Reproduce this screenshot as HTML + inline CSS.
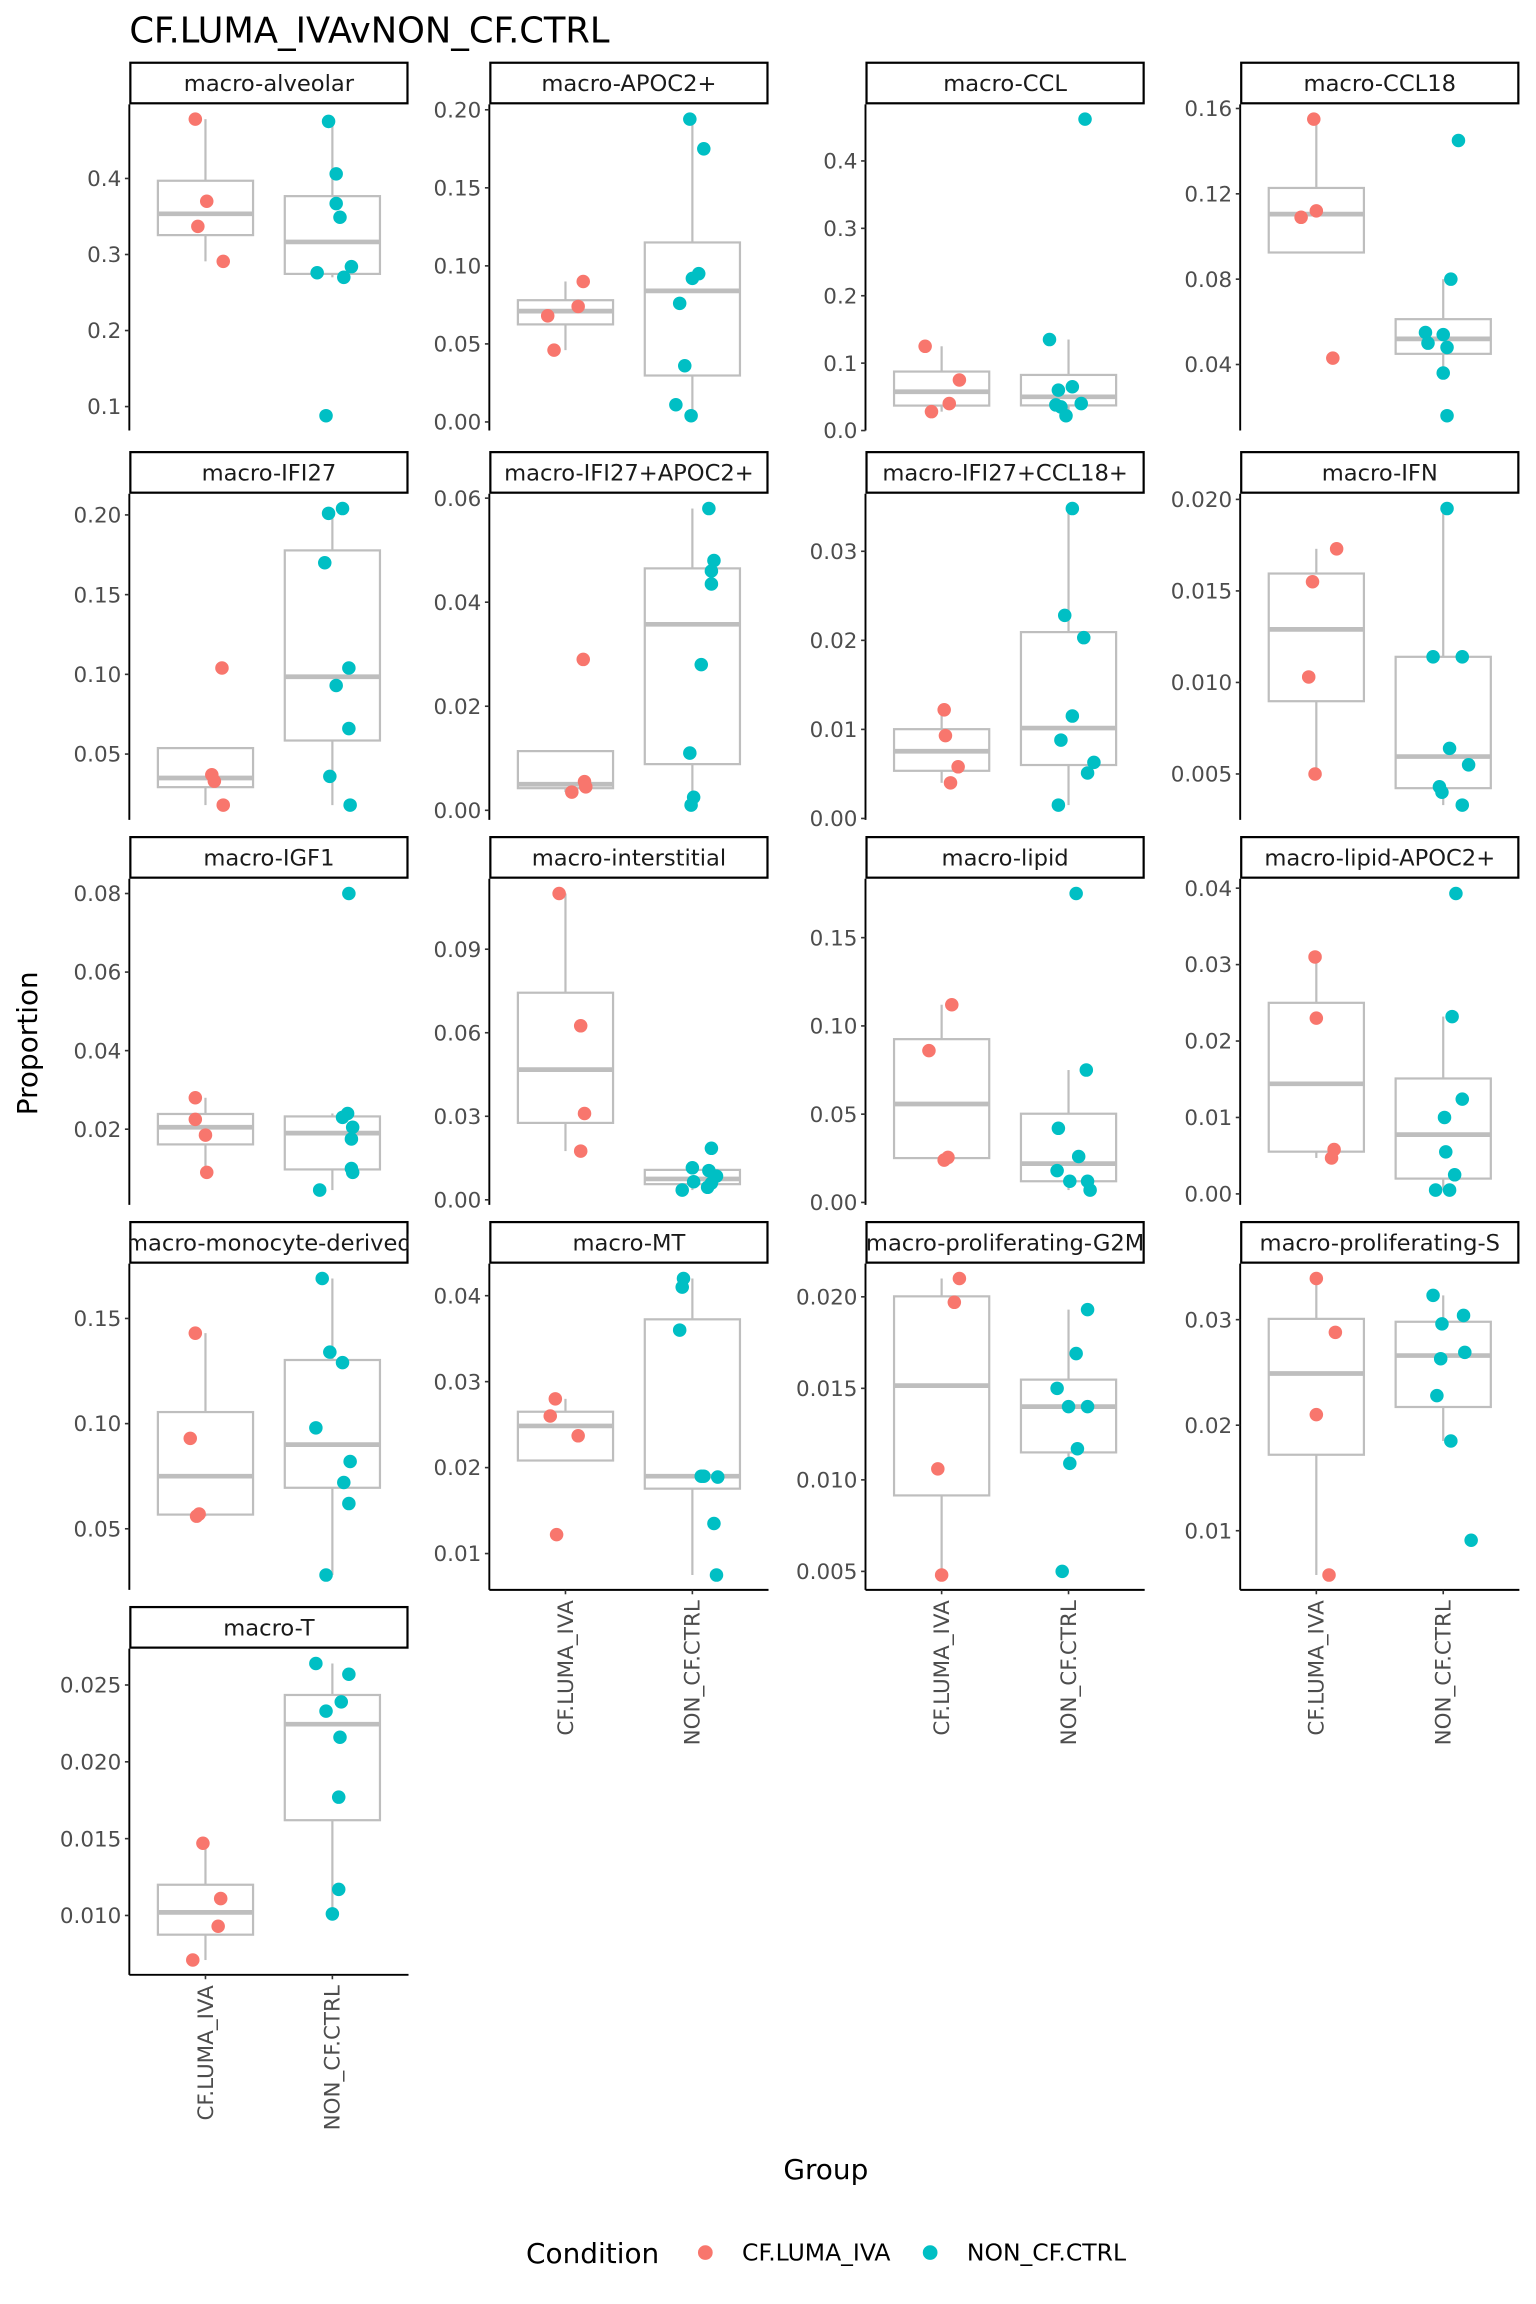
<!DOCTYPE html>
<html><head><meta charset="utf-8"><style>
html,body{margin:0;padding:0;background:#fff;}
svg{display:block;font-family:"DejaVu Sans","Liberation Sans",sans-serif;}
</style></head><body>
<svg id="chart" xmlns="http://www.w3.org/2000/svg" width="1536" height="2304" viewBox="0 0 1045.3 1568">
<rect width="1045.3" height="1568" fill="#fff"/>
<text x="88" y="29" font-size="24" fill="#000">CF.LUMA_IVAvNON_CF.CTRL</text>
<text transform="translate(25,710) rotate(-90)" text-anchor="middle" font-size="19" fill="#000">Proportion</text>
<text x="562" y="1483" text-anchor="middle" font-size="19" fill="#000">Group</text>
<g>
<text x="358" y="1540" font-size="19" fill="#000">Condition</text>
<circle cx="480" cy="1533" r="5" fill="#F8766D"/>
<text x="505" y="1538.5" font-size="16" fill="#000">CF.LUMA_IVA</text>
<circle cx="633" cy="1533" r="5" fill="#00BFC4"/>
<text x="658" y="1538.5" font-size="16" fill="#000">NON_CF.CTRL</text>
</g>
<g id="panels"></g>
</svg>
<script>
const panelNames = ["macro-alveolar","macro-APOC2+","macro-CCL","macro-CCL18","macro-IFI27","macro-IFI27+APOC2+","macro-IFI27+CCL18+","macro-IFN","macro-IGF1","macro-interstitial","macro-lipid","macro-lipid-APOC2+","macro-monocyte-derived","macro-MT","macro-proliferating-G2M","macro-proliferating-S","macro-T"];
const groups = ["CF.LUMA_IVA","NON_CF.CTRL"];
const cfValues = [
 [0.478,0.370,0.337,0.291],
 [0.090,0.074,0.068,0.046],
 [0.125,0.075,0.040,0.028],
 [0.155,0.112,0.109,0.043],
 [0.104,0.037,0.033,0.018],
 [0.029,0.0055,0.0045,0.0035],
 [0.0122,0.0093,0.0058,0.0040],
 [0.0173,0.0155,0.0103,0.0050],
 [0.028,0.0225,0.0185,0.009],
 [0.110,0.0625,0.031,0.0175],
 [0.112,0.086,0.0255,0.024],
 [0.031,0.023,0.0058,0.0047],
 [0.143,0.093,0.057,0.056],
 [0.028,0.026,0.0237,0.0122],
 [0.021,0.0197,0.0106,0.0048],
 [0.0339,0.0288,0.0210,0.0058],
 [0.0147,0.0111,0.0093,0.0071]
];
const nonValues = [
 [0.475,0.406,0.367,0.349,0.284,0.276,0.270,0.088],
 [0.194,0.175,0.095,0.092,0.076,0.036,0.011,0.004],
 [0.462,0.135,0.065,0.060,0.040,0.038,0.035,0.022],
 [0.145,0.080,0.055,0.054,0.050,0.048,0.036,0.016],
 [0.204,0.201,0.170,0.104,0.093,0.066,0.036,0.018],
 [0.058,0.048,0.046,0.0435,0.028,0.011,0.0025,0.001],
 [0.0348,0.0228,0.0203,0.0115,0.0088,0.0063,0.0051,0.0015],
 [0.0195,0.0114,0.0114,0.0064,0.0055,0.0043,0.0040,0.0033],
 [0.080,0.024,0.023,0.0205,0.0175,0.010,0.009,0.0045],
 [0.0185,0.0115,0.0105,0.0085,0.0065,0.006,0.0045,0.0035],
 [0.175,0.075,0.042,0.026,0.018,0.012,0.012,0.007],
 [0.0393,0.0232,0.0124,0.010,0.0055,0.0025,0.0005,0.0005],
 [0.169,0.134,0.129,0.098,0.082,0.072,0.062,0.028],
 [0.042,0.041,0.036,0.019,0.019,0.0189,0.0135,0.0075],
 [0.0193,0.0169,0.015,0.0140,0.014,0.0117,0.0109,0.0050],
 [0.0323,0.0304,0.0296,0.0269,0.0263,0.0228,0.0185,0.0091],
 [0.0264,0.0257,0.0239,0.0233,0.0216,0.0177,0.0117,0.0101]
];
// horizontal jitter (hundredths of a category step)
const cfJitter = [
 [-8,1,-6,14],[14,10,-14,-9],[-13,14,6,-8],[-2,0,-12,13],[13,5,7,14],[14,15,16,5],[2,3,13,7],[16,-3,-6,-1],
 [-8,-8,0,1],[-5,12,15,12],[8,-10,5,2],[-1,0,14,12],[-8,-12,-5,-7],[-8,-12,10,-7],[14,10,-3,0],[0,15,0,10],[-2,12,10,-10]
];
const nonJitter = [
 [-3,3,3,6,15,-12,9,-5],[-2,9,5,0,-10,-6,-13,-1],[13,-15,3,-8,10,-10,-6,-2],[12,6,-14,0,-12,3,0,3],
 [8,-3,-6,13,3,13,-2,14],[13,17,15,15,7,-2,1,-1],[3,-3,12,3,-6,20,15,-8],[3,-8,15,5,20,-3,-1,15],
 [13,12,8,16,15,15,16,-10],[15,0,13,19,1,15,12,-8],[6,14,-8,8,-9,1,15,17],[10,7,15,1,2,9,-6,5],
 [-8,-2,8,-13,14,9,13,-5],[-7,-8,-10,7,9,20,17,19],[15,6,-9,0,15,7,1,-5],[-8,16,-1,17,-2,-5,6,22],[-13,13,7,-5,6,5,5,0]
];
const tickValues = [
 [0.1,0.2,0.3,0.4],[0,0.05,0.10,0.15,0.20],[0,0.1,0.2,0.3,0.4],[0.04,0.08,0.12,0.16],
 [0.05,0.10,0.15,0.20],[0,0.02,0.04,0.06],[0,0.01,0.02,0.03],[0.005,0.010,0.015,0.020],
 [0.02,0.04,0.06,0.08],[0,0.03,0.06,0.09],[0,0.05,0.10,0.15],[0,0.01,0.02,0.03,0.04],
 [0.05,0.10,0.15],[0.01,0.02,0.03,0.04],[0.005,0.010,0.015,0.020],[0.01,0.02,0.03],[0.010,0.015,0.020,0.025]
];
const tickDigits = [1,2,1,2,2,2,2,3,2,2,2,2,2,2,3,2,3];

const NS = "http://www.w3.org/2000/svg";
const root = document.getElementById("panels");
const colLeft = [88,333,589,844];
const rowTop = [71,336,598,860,1122];
const PW = 190, PH = 222;
const colors = ["#F8766D","#00BFC4"];
function mk(tag, attrs, parent){ const e=document.createElementNS(NS,tag); for(const k in attrs) e.setAttribute(k,attrs[k]); parent.appendChild(e); return e; }
function quant(sorted,p){ const h=(sorted.length-1)*p; const lo=Math.floor(h); const hi=Math.ceil(h); return sorted[lo]+(h-lo)*(sorted[hi]-sorted[lo]); }

panelNames.forEach((name,i)=>{
  const col=i%4, row=Math.floor(i/4);
  const L=colLeft[col], T=rowTop[row], B=T+PH;
  const g=mk("g",{},root);
  
  
  const all=cfValues[i].concat(nonValues[i]);
  const mn=Math.min(...all), mx=Math.max(...all), ex=(mx-mn)*0.05;
  const y=v=>B-(v-(mn-ex))/((mx-mn)+2*ex)*PH;
  const x=c=>L+PW*((c+1)-0.4)/2.2;
  const clipId="clip"+i;
  const cp=mk("clipPath",{id:clipId},g); mk("rect",{x:L,y:T-29,width:PW,height:29},cp);
  const strip=mk("rect",{x:L+0.7,y:T-28.3,width:PW-1.4,height:27.6,fill:"#fff",stroke:"#000","stroke-width":1.5},g);
  
  
  const st=mk("text",{x:L+PW/2,y:T-9,"text-anchor":"middle","font-size":15.4,fill:"#1a1a1a","clip-path":"url(#"+clipId+")"},g);
  st.textContent=name;
  
  
  const ax=mk("line",{x1:L,y1:T,x2:L,y2:B,stroke:"#000","stroke-width":1.3},g);
  
  
  tickValues[i].forEach(t=>{
    const ty=y(t);
    const tk=mk("line",{x1:L-3,y1:ty,x2:L,y2:ty,stroke:"#333","stroke-width":1.1},g);
    
    
    const tl=mk("text",{x:L-5.5,y:ty+5.2,"text-anchor":"end","font-size":14.6,fill:"#4d4d4d"},g);
    tl.textContent=t.toFixed(tickDigits[i]);
    
    
  });
  [cfValues[i],nonValues[i]].forEach((vals,gi)=>{
    const s=vals.slice().sort((a,b)=>a-b);
    const q1=quant(s,0.25), med=quant(s,0.5), q3=quant(s,0.75), iqr=q3-q1;
    const lo=Math.min(...s.filter(v=>v>=q1-1.5*iqr)), hi=Math.max(...s.filter(v=>v<=q3+1.5*iqr));
    const cx=x(gi), hw=PW*0.375/2.2;
    const bg=mk("g",{},g);
    
    
    mk("line",{x1:cx,y1:y(hi),x2:cx,y2:y(q3),stroke:"#bebebe","stroke-width":1.5},bg);
    mk("line",{x1:cx,y1:y(q1),x2:cx,y2:y(lo),stroke:"#bebebe","stroke-width":1.5},bg);
    mk("rect",{x:cx-hw,y:y(q3),width:2*hw,height:y(q1)-y(q3),fill:"#fff",stroke:"#bebebe","stroke-width":1.5},bg);
    mk("line",{x1:cx-hw,y1:y(med),x2:cx+hw,y2:y(med),stroke:"#bebebe","stroke-width":3.2},bg);
  });
  [[cfValues[i],cfJitter[i]],[nonValues[i],nonJitter[i]]].forEach(([vals,jit],gi)=>{
    vals.forEach((v,k)=>{
      const p=mk("circle",{cx:x(gi+jit[k]/100),cy:y(v),r:4.6,fill:colors[gi]},g);
      
      
    });
  });
  const bottom = (col===0 && row===4) || (col>0 && row===3);
  if(bottom){
    const xl=mk("line",{x1:L,y1:B,x2:L+PW,y2:B,stroke:"#000","stroke-width":1.3},g);
    
    
    groups.forEach((gname,gi)=>{
      const cx=x(gi);
      const tk=mk("line",{x1:cx,y1:B,x2:cx,y2:B+3,stroke:"#333","stroke-width":1.1},g);
      
      
      const tl=mk("text",{transform:"translate("+(cx+5)+","+(B+7)+") rotate(-90)","text-anchor":"end","font-size":14.6,fill:"#4d4d4d"},g);
      tl.textContent=gname;
      
      
    });
  }
});
</script>
</body></html>
